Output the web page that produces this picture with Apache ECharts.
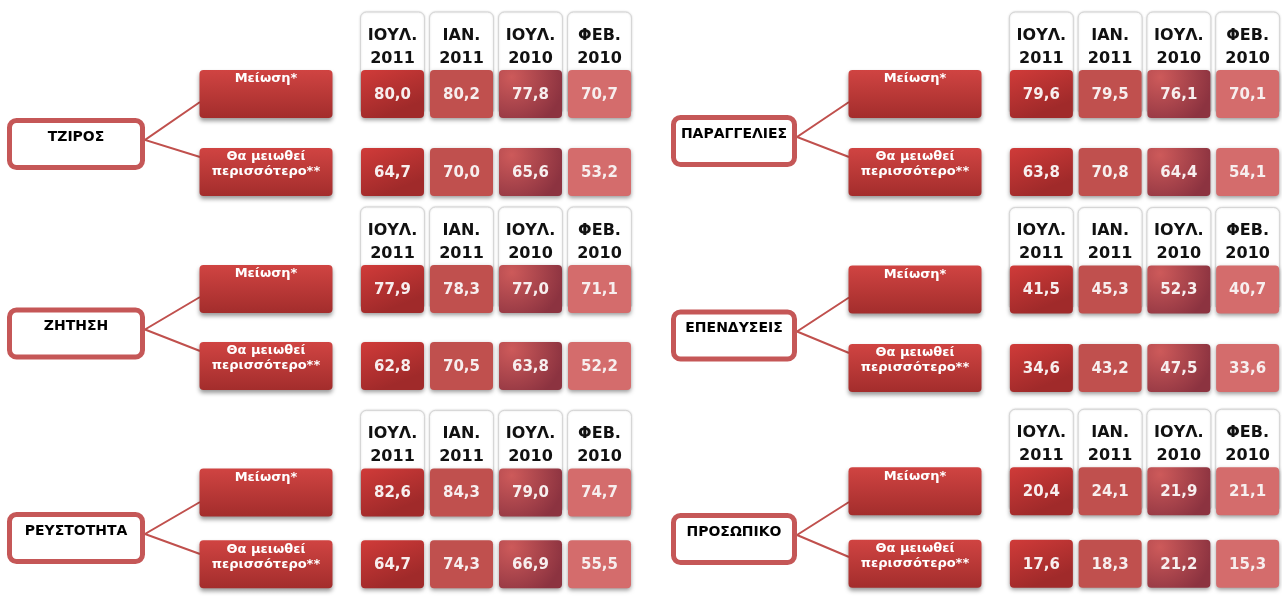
<!DOCTYPE html>
<html>
<head>
<meta charset="utf-8">
<script src="https://cdn.jsdelivr.net/npm/echarts@6/dist/echarts.min.js"></script>
<style>
  html, body { margin: 0; padding: 0; background: #fff; }
  #chart { width: 1282px; height: 600px; }
</style>
</head>
<body>
<div id="chart"></div>
<script>
// column headers and row labels
const periods = ['ΙΟΥΛ.\n2011', 'ΙΑΝ.\n2011', 'ΙΟΥΛ.\n2010', 'ΦΕΒ.\n2010'];
const rowLabels = ['Μείωση*', 'Θα μειωθεί\nπερισσότερο**'];
const panelTitles = ['ΤΖΙΡΟΣ', 'ΖΗΤΗΣΗ', 'ΡΕΥΣΤΟΤΗΤΑ', 'ΠΑΡΑΓΓΕΛΙΕΣ', 'ΕΠΕΝΔΥΣΕΙΣ', 'ΠΡΟΣΩΠΙΚΟ'];

// values per panel: [Μείωση*, Θα μειωθεί περισσότερο**]
const tziros = [[80.0, 80.2, 77.8, 70.7], [64.7, 70.0, 65.6, 53.2]];
const zitisi = [[77.9, 78.3, 77.0, 71.1], [62.8, 70.5, 63.8, 52.2]];
const reustotita = [[82.6, 84.3, 79.0, 74.7], [64.7, 74.3, 66.9, 55.5]];
const paraggelies = [[79.6, 79.5, 76.1, 70.1], [63.8, 70.8, 64.4, 54.1]];
const ependyseis = [[41.5, 45.3, 52.3, 40.7], [34.6, 43.2, 47.5, 33.6]];
const prosopiko = [[20.4, 24.1, 21.9, 21.1], [17.6, 18.3, 21.2, 15.3]];

const panelValues = [tziros, zitisi, reustotita, paraggelies, ependyseis, prosopiko];

// where each panel sits on the page
const layout = [
  {left: 358, row0: 94, gap: 78, titleX: 7, titleW: 138, titleY: 144},
  {left: 358, row0: 289, gap: 77, titleX: 7, titleW: 138, titleY: 333.5},
  {left: 358, row0: 494, gap: 75, titleX: 7, titleW: 138, titleY: 538},
  {left: 1007, row0: 94, gap: 78, titleX: 671, titleW: 126, titleY: 141},
  {left: 1007, row0: 289.5, gap: 78.5, titleX: 671, titleW: 126, titleY: 335.5},
  {left: 1007, row0: 494, gap: 78, titleX: 671, titleW: 126, titleY: 539}
];

const FONT = 'DejaVu Sans';
const BAND = 69;

const cellFills = [
  {type: 'linear', x: 0, y: 0, x2: 0.3, y2: 1, colorStops: [{offset: 0, color: '#d03b39'}, {offset: 1, color: '#a02a2a'}]},
  '#c0504e',
  {type: 'radial', x: 0.2, y: 0.15, r: 1.1, colorStops: [{offset: 0, color: '#cd5a5a'}, {offset: 1, color: '#8c3340'}]},
  '#d46c6c'
];

const labelBg = {
  type: 'linear', x: 0, y: 0, x2: 0, y2: 1,
  colorStops: [{offset: 0, color: '#d04442'}, {offset: 1, color: '#a32d2c'}]
};

function fmt(v) {
  return v.toFixed(1).replace('.', ',');
}

function renderCell(params, api) {
  const xi = api.value(0);
  const yi = api.value(1);
  const v = api.value(2);
  const p = api.coord([xi, yi]);
  const children = [];
  if (yi === 0) {
    children.push({
      type: 'rect',
      shape: {x: p[0] - 32, y: p[1] - 82, width: 64, height: 100, r: [6, 6, 2, 2]},
      style: {fill: '#fff', stroke: '#d6d6d6', lineWidth: 1, shadowBlur: 2, shadowColor: 'rgba(0,0,0,0.15)'}
    });
    children.push({
      type: 'text',
      style: {
        x: p[0], y: p[1] - 47, text: periods[xi], align: 'center', verticalAlign: 'middle',
        fill: '#111', font: 'bold 16px "' + FONT + '"', lineHeight: 23
      }
    });
  }
  children.push({
    type: 'rect',
    shape: {x: p[0] - 31.5, y: p[1] - 24, width: 63, height: 48, r: 4},
    style: {fill: cellFills[xi], shadowBlur: 4, shadowOffsetY: 2, shadowColor: 'rgba(0,0,0,0.4)'}
  });
  children.push({
    type: 'text',
    style: {
      x: p[0], y: p[1] + 1, text: fmt(v), align: 'center', verticalAlign: 'middle',
      fill: '#f7eeee', font: 'bold 15px "' + FONT + '"'
    }
  });
  return {type: 'group', children: children};
}

const grid = [], xAxis = [], yAxis = [], series = [], graphic = [];

layout.forEach((L, i) => {
  grid.push({left: L.left, top: L.row0 - L.gap / 2, width: BAND * 4, height: L.gap * 2, containLabel: false});
  xAxis.push({type: 'category', gridIndex: i, data: periods, show: false});
  yAxis.push({
    type: 'category', gridIndex: i, data: rowLabels, inverse: true,
    axisLine: {show: false}, axisTick: {show: false}, splitLine: {show: false},
    axisLabel: {
      interval: 0, margin: 92, align: 'center', verticalAlign: 'middle',
      width: 133, padding: [3, 0, 0, 0], lineHeight: 15,
      color: '#fff', fontWeight: 'bold', fontSize: 13, fontFamily: FONT,
      backgroundColor: labelBg, borderRadius: 4,
      shadowBlur: 4, shadowOffsetY: 3, shadowColor: 'rgba(0,0,0,0.4)',
      formatter: (s) => {
        const n = s.split('\n').length;
        return s + '\n\u00a0'.repeat(3 - n);
      }
    }
  });
  const data = [];
  panelValues[i].forEach((row, yi) => row.forEach((v, xi) => data.push([xi, yi, v])));
  series.push({
    type: 'custom', xAxisIndex: i, yAxisIndex: i, clip: false,
    renderItem: renderCell, data: data, silent: true
  });

  // title box and connectors
  const right = L.titleX + L.titleW;
  const labelLeft = L.left - 25 - 133;
  const sy = L.titleY - 4;
  graphic.push({
    type: 'polyline', z: -2, silent: true,
    shape: {points: [[labelLeft, L.row0 + 8], [right, sy], [labelLeft, L.row0 + L.gap - 15]]},
    style: {stroke: '#c0504d', lineWidth: 2, fill: null}
  });
  graphic.push({
    type: 'rect', z: -1, silent: true,
    shape: {x: L.titleX + 2.5, y: L.titleY - 23.5, width: L.titleW - 5, height: 47, r: 7},
    style: {fill: '#fff', stroke: '#c55757', lineWidth: 5}
  });
  graphic.push({
    type: 'text', z: -1, silent: true,
    style: {
      x: L.titleX + L.titleW / 2, y: L.titleY - 7, text: panelTitles[i],
      align: 'center', verticalAlign: 'middle', fill: '#000', font: 'bold 14px "' + FONT + '"'
    }
  });
});

const chart = echarts.init(document.getElementById('chart'));
chart.setOption({
  backgroundColor: '#fff',
  animation: false,
  grid: grid,
  xAxis: xAxis,
  yAxis: yAxis,
  series: series,
  graphic: graphic
});
</script>
</body>
</html>
